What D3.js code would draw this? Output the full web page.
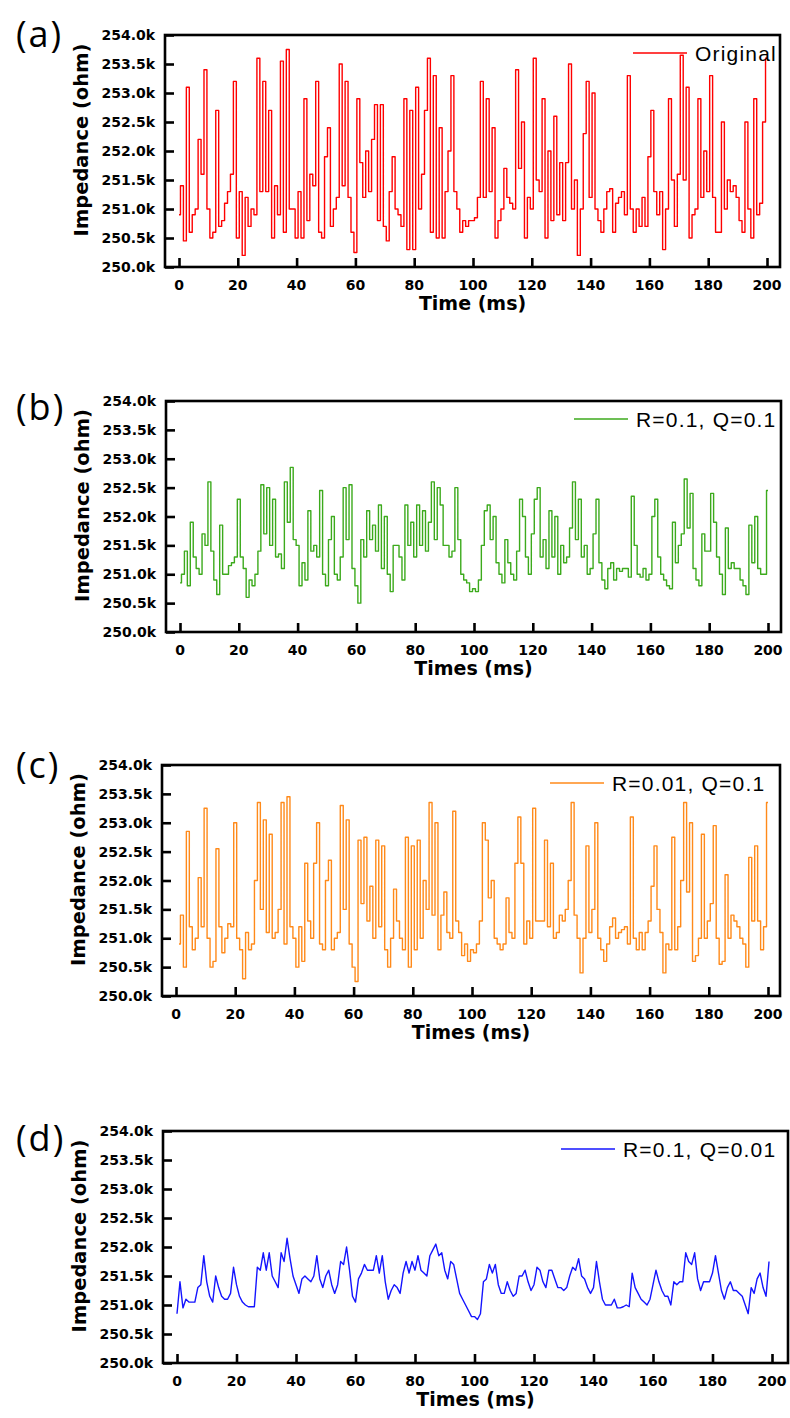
<!DOCTYPE html>
<meta charset="utf-8">
<style>body{margin:0;background:#fff}</style>
<svg id="fig" width="790" height="1418"></svg>
<script src="https://d3js.org/d3.v7.min.js"></script>
<script>

var svg = d3.select("svg#fig");

// axis ticks
var xTicks = [0, 20, 40, 60, 80, 100, 120, 140, 160, 180, 200];
var yTicks = [250.0, 250.5, 251.0, 251.5, 252.0, 252.5, 253.0, 253.5, 254.0];

// impedance in k-ohm, one sample per ms
// (a) original, t = 0..200
var original = [250.9, 251.4, 250.45, 253.1, 250.6, 250.9, 251.0, 252.2, 251.6, 253.4,
	251.0, 250.5, 250.6, 252.7, 250.7, 250.8, 251.1, 251.3, 251.6, 253.2,
	250.5, 251.3, 250.2, 251.2, 250.7, 251.0, 250.9, 253.6, 251.3, 253.2,
	251.3, 252.7, 250.5, 251.4, 250.9, 253.55, 250.6, 253.75, 251.0, 251.0,
	250.5, 251.3, 250.5, 252.9, 250.8, 251.6, 251.4, 253.2, 250.6, 250.5,
	251.9, 252.4, 250.7, 251.0, 251.2, 253.5, 251.4, 253.2, 251.2, 250.6,
	250.25, 252.9, 251.8, 251.2, 252.0, 251.3, 252.2, 252.8, 250.8, 252.8,
	250.7, 250.45, 251.3, 251.9, 251.0, 250.9, 250.7, 252.9, 250.3, 252.7,
	250.3, 253.1, 251.0, 251.6, 252.7, 253.6, 250.6, 253.3, 250.5, 252.4,
	250.5, 251.3, 252.0, 253.3, 251.3, 251.0, 250.6, 250.8, 250.7, 250.8,
	250.8, 250.85, 251.2, 253.2, 251.2, 252.9, 251.3, 252.4, 250.5, 250.8,
	251.0, 251.7, 251.2, 251.1, 251.0, 253.4, 251.7, 252.5, 250.5, 251.2,
	251.0, 253.6, 251.5, 251.3, 252.9, 250.5, 252.0, 250.8, 252.6, 250.9,
	251.8, 250.8, 251.8, 253.5, 251.0, 251.5, 250.2, 251.0, 252.3, 253.2,
	251.2, 253.0, 251.0, 250.8, 250.6, 251.0, 251.3, 251.35, 250.6, 251.1,
	251.2, 251.3, 250.9, 253.3, 251.0, 250.6, 251.0, 250.7, 251.2, 250.7,
	251.9, 252.7, 251.3, 250.9, 251.3, 250.3, 251.0, 252.9, 251.5, 250.7,
	251.6, 253.65, 251.5, 253.1, 250.5, 250.9, 251.0, 252.9, 251.2, 252.0,
	251.3, 253.3, 251.2, 250.6, 250.6, 252.5, 251.0, 251.5, 251.3, 251.4,
	251.2, 250.8, 250.6, 252.5, 251.0, 250.5, 252.9, 250.9, 251.1, 252.5,
	253.6];

// (b) R=0.1, Q=0.1, t = 0..200
var filterB = [250.85, 251.0, 251.4, 250.8, 251.9, 251.3, 251.1, 251.0, 251.7, 251.5,
	252.6, 251.4, 250.9, 250.65, 251.85, 251.0, 251.0, 251.15, 251.2, 251.3,
	252.3, 251.3, 251.1, 250.6, 250.9, 250.8, 251.0, 251.4, 252.55, 251.7,
	252.5, 251.5, 252.3, 251.3, 251.35, 251.1, 252.6, 251.9, 252.85, 251.6,
	251.5, 250.8, 251.2, 250.9, 252.1, 251.4, 251.5, 251.3, 252.45, 251.0,
	250.8, 251.6, 252.0, 251.0, 250.9, 251.3, 252.5, 251.6, 252.55, 251.1,
	250.8, 250.5, 251.6, 251.3, 252.1, 251.6, 251.85, 251.4, 252.2, 251.1,
	252.0, 251.0, 250.7, 251.5, 251.5, 251.3, 250.9, 252.2, 251.5, 251.9,
	251.3, 252.2, 251.5, 252.1, 251.4, 251.9, 252.6, 251.6, 252.5, 252.2,
	251.5, 251.5, 251.3, 251.4, 252.5, 251.6, 251.0, 250.9, 250.85, 250.7,
	250.75, 250.7, 250.9, 251.5, 252.1, 252.2, 251.6, 252.0, 251.2, 251.0,
	250.85, 251.6, 251.2, 251.0, 250.9, 251.4, 252.3, 252.0, 251.3, 251.0,
	251.7, 252.3, 252.5, 251.3, 251.6, 251.1, 252.1, 251.3, 252.0, 251.0,
	251.5, 251.2, 251.3, 251.8, 252.6, 251.6, 252.3, 251.3, 251.5, 251.0,
	251.1, 251.7, 252.3, 251.2, 250.9, 250.75, 251.1, 251.2, 250.9, 251.1,
	251.05, 251.1, 251.1, 250.95, 252.35, 251.5, 251.0, 250.95, 251.1, 250.9,
	251.0, 252.0, 252.3, 251.3, 251.0, 250.9, 250.8, 250.75, 251.9, 251.2,
	251.5, 251.7, 252.65, 251.8, 252.4, 251.1, 250.9, 250.8, 251.7, 251.4,
	251.4, 252.4, 251.9, 251.3, 251.0, 250.65, 251.8, 251.1, 251.2, 251.1,
	251.1, 250.9, 250.8, 250.65, 251.85, 251.2, 252.0, 251.1, 251.0, 251.0,
	252.45];

// (c) R=0.01, Q=0.1, t = 1..200
var filterC = [250.9, 251.4, 250.5, 252.85, 251.2, 250.8, 251.0, 252.05, 251.2, 253.25,
	251.0, 250.5, 250.6, 252.55, 251.2, 250.75, 251.0, 251.25, 251.2, 253.0,
	251.0, 250.8, 250.3, 251.1, 250.8, 250.9, 252.0, 253.35, 251.5, 253.05,
	251.1, 252.8, 251.0, 251.1, 251.5, 253.35, 250.9, 253.45, 251.2, 251.0,
	250.5, 251.2, 250.6, 252.3, 251.3, 251.0, 252.3, 253.0, 250.9, 250.8,
	252.0, 252.35, 250.8, 251.0, 251.1, 253.3, 251.5, 253.05, 250.9, 250.5,
	250.25, 252.7, 251.6, 252.75, 251.3, 251.9, 251.0, 252.7, 251.2, 252.6,
	250.8, 250.5, 251.0, 251.85, 251.3, 251.0, 250.8, 252.75, 250.5, 252.6,
	250.8, 252.7, 251.0, 252.0, 251.5, 253.35, 251.4, 253.0, 250.8, 251.4,
	251.8, 251.1, 251.0, 253.2, 251.3, 251.1, 250.7, 250.9, 250.6, 250.8,
	250.75, 250.9, 251.3, 253.0, 252.7, 251.7, 252.0, 251.0, 250.9, 250.8,
	250.9, 251.7, 251.1, 251.0, 252.3, 253.1, 252.3, 250.9, 251.3, 251.0,
	253.25, 251.3, 251.3, 251.3, 252.7, 251.2, 252.3, 251.0, 251.1, 251.4,
	251.3, 251.5, 252.0, 253.35, 251.4, 251.0, 250.4, 251.0, 252.6, 251.1,
	251.5, 253.0, 251.0, 250.8, 250.6, 250.9, 251.2, 251.35, 251.0, 251.1,
	251.15, 251.2, 250.9, 253.1, 251.0, 250.8, 251.1, 250.8, 251.1, 251.3,
	251.9, 252.6, 251.5, 251.1, 250.4, 250.9, 250.8, 252.75, 250.8, 251.2,
	252.0, 253.35, 251.8, 253.0, 250.6, 250.7, 251.0, 252.8, 251.0, 251.3,
	251.6, 252.95, 251.0, 250.55, 250.6, 252.1, 251.0, 251.4, 251.3, 251.2,
	251.0, 250.9, 250.5, 252.4, 251.3, 252.6, 251.3, 250.8, 251.2, 253.35];

// (d) R=0.1, Q=0.01, t = 0..199
var filterD = [250.85, 251.4, 250.95, 251.1, 251.05, 251.05, 251.05, 251.3, 251.35, 251.85,
	251.4, 251.15, 251.05, 251.5, 251.3, 251.15, 251.1, 251.1, 251.2, 251.65,
	251.35, 251.15, 251.05, 251.0, 250.97, 250.97, 250.97, 251.65, 251.6, 251.9,
	251.6, 251.9, 251.5, 251.4, 251.3, 251.9, 251.75, 252.15, 251.8, 251.5,
	251.35, 251.2, 251.45, 251.5, 251.45, 251.4, 251.5, 251.85, 251.45, 251.3,
	251.5, 251.6, 251.35, 251.2, 251.35, 251.75, 251.7, 252.0, 251.6, 251.15,
	251.05, 251.45, 251.55, 251.7, 251.6, 251.6, 251.6, 251.85, 251.55, 251.85,
	251.4, 251.1, 251.25, 251.35, 251.3, 251.2, 251.55, 251.75, 251.55, 251.75,
	251.6, 251.85, 251.6, 251.55, 251.5, 251.85, 251.95, 252.05, 251.85, 251.9,
	251.6, 251.45, 251.75, 251.7, 251.45, 251.2, 251.1, 251.0, 250.9, 250.8,
	250.8, 250.75, 250.85, 251.4, 251.45, 251.7, 251.55, 251.7, 251.35, 251.2,
	251.2, 251.4, 251.25, 251.15, 251.2, 251.5, 251.5, 251.6, 251.4, 251.25,
	251.35, 251.65, 251.6, 251.4, 251.3, 251.6, 251.6, 251.45, 251.3, 251.3,
	251.25, 251.3, 251.5, 251.65, 251.6, 251.8, 251.5, 251.45, 251.3, 251.2,
	251.3, 251.75, 251.4, 251.1, 251.0, 251.0, 251.0, 251.1, 250.95, 250.95,
	250.97, 251.0, 250.97, 251.55, 251.3, 251.2, 251.1, 251.05, 251.0, 251.1,
	251.35, 251.6, 251.4, 251.25, 251.15, 251.15, 251.0, 251.4, 251.35, 251.4,
	251.4, 251.9, 251.75, 251.7, 251.9, 251.45, 251.25, 251.4, 251.4, 251.4,
	251.55, 251.85, 251.55, 251.25, 251.1, 251.3, 251.4, 251.25, 251.25, 251.2,
	251.15, 251.0, 250.85, 251.3, 251.2, 251.45, 251.55, 251.3, 251.15, 251.75];

// layout of the four stacked panels (frame edges, x range of 0..200, legend text x)
var panels = [
	{ tag: "(a)", values: original, t0: 0, color: "#ff0000", name: "Original", xTitle: "Time (ms)",
		curve: d3.curveStep, l: 165, r: 780, t: 35, b: 267, x0: 179, x1: 767, lx: 695, tagY: 35 },
	{ tag: "(b)", values: filterB, t0: 0, color: "#3caa1c", name: "R=0.1, Q=0.1", xTitle: "Times (ms)",
		curve: d3.curveStep, l: 166, r: 781, t: 401, b: 632, x0: 180, x1: 768, lx: 636, tagY: 408 },
	{ tag: "(c)", values: filterC, t0: 1, color: "#ff8a1a", name: "R=0.01, Q=0.1", xTitle: "Times (ms)",
		curve: d3.curveStep, l: 162, r: 780, t: 765, b: 996, x0: 176, x1: 768, lx: 612, tagY: 766 },
	{ tag: "(d)", values: filterD, t0: 0, color: "#1414ff", name: "R=0.1, Q=0.01", xTitle: "Times (ms)",
		curve: d3.curveLinear, l: 163, r: 788, t: 1131, b: 1363, x0: 177, x1: 772, lx: 623, tagY: 1139 }
];

var fmt = function(d) { return d3.format(".1f")(d) + "k"; };

panels.forEach(function(p) {
	var g = svg.append("g");

	var x = d3.scaleLinear().domain([0, 200]).range([p.x0, p.x1]);
	var y = d3.scaleLinear().domain([250, 254]).range([p.b, p.t]);

	var line = d3.line()
		.x(function(d, i) { return x(p.t0 + i); })
		.y(function(d) { return y(d); })
		.curve(p.curve);

	g.append("path")
		.datum(p.values)
		.attr("d", line)
		.attr("fill", "none")
		.attr("stroke", p.color)
		.attr("stroke-width", 1.4)
		.attr("stroke-linejoin", "round");

	// frame
	g.append("rect")
		.attr("x", p.l).attr("y", p.t)
		.attr("width", p.r - p.l).attr("height", p.b - p.t)
		.attr("fill", "none")
		.attr("stroke", "#000")
		.attr("stroke-width", 2.6);

	// y axis: inward ticks, bold labels
	var yAxis = g.append("g")
		.attr("transform", "translate(" + p.l + ",0)")
		.call(d3.axisRight(y).tickValues(yTicks).tickSize(9).tickFormat(""));
	yAxis.select(".domain").remove();
	yAxis.selectAll("line").attr("stroke-width", 2.6);

	g.selectAll(".ylab")
		.data(yTicks)
		.enter().append("text")
			.attr("x", p.l - 10)
			.attr("y", function(d) { return y(d) + 5; })
			.attr("text-anchor", "end")
			.style("font", "bold 14px 'DejaVu Sans'")
			.text(fmt);

	// x axis: inward ticks
	var xAxis = g.append("g")
		.attr("transform", "translate(0," + p.b + ")")
		.call(d3.axisTop(x).tickValues(xTicks).tickSize(9).tickFormat(""));
	xAxis.select(".domain").remove();
	xAxis.selectAll("line").attr("stroke-width", 2.6);

	g.selectAll(".xlab")
		.data(xTicks)
		.enter().append("text")
			.attr("x", function(d) { return x(d); })
			.attr("y", p.b + 23)
			.attr("text-anchor", "middle")
			.style("font", "bold 14px 'DejaVu Sans'")
			.text(function(d) { return d; });

	// axis titles
	g.append("text")
		.attr("x", (p.l + p.r) / 2)
		.attr("y", p.b + 43)
		.attr("text-anchor", "middle")
		.style("font", "bold 19px 'DejaVu Sans'")
		.text(p.xTitle);

	g.append("text")
		.attr("transform", "translate(" + (p.l - 77) + "," + ((p.t + p.b) / 2 - 11) + ") rotate(-90)")
		.attr("text-anchor", "middle")
		.style("font", "bold 19.5px 'DejaVu Sans'")
		.text("Impedance (ohm)");

	// legend
	var ly = p.t + 18;
	g.append("line")
		.attr("x1", p.lx - 62).attr("x2", p.lx - 8)
		.attr("y1", ly).attr("y2", ly)
		.attr("stroke", p.color)
		.attr("stroke-width", 1.5);
	g.append("text")
		.attr("x", p.lx)
		.attr("y", ly + 7.5)
		.style("font", "21px 'Liberation Sans'")
		.style("letter-spacing", "1.2px")
		.text(p.name);

	// panel tag
	g.append("text")
		.attr("x", 16)
		.attr("y", p.tagY + 12)
		.style("font", "36px 'Open Sans'")
		.style("letter-spacing", "2px")
		.text(p.tag);
});

</script>
